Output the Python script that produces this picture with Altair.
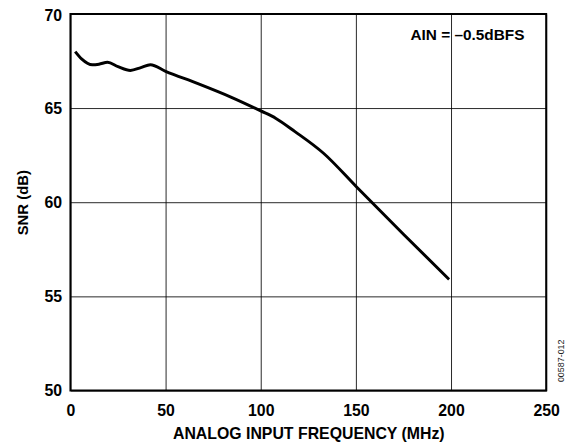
import altair as alt
import pandas as pd

freq = [2.5, 6, 11.5, 15, 19.5, 25, 31.5, 37, 42, 50, 67, 84, 100, 108, 118, 133, 150, 175, 199]
snr = [68.0, 67.6, 67.3, 67.33, 67.43, 67.2, 67.0, 67.15, 67.3, 66.95, 66.3, 65.6, 64.85, 64.45, 63.75, 62.6, 60.85, 58.3, 55.9]

x_ticks = [0, 50, 100, 150, 200, 250]
y_ticks = [50, 55, 60, 65, 70]

df = pd.DataFrame({"f": freq, "snr": snr})
FONT = "Liberation Sans"

line = alt.Chart(df).mark_line(color="black", strokeWidth=3, interpolate="monotone").encode(
    x=alt.X("f:Q", scale=alt.Scale(domain=[0, 250], nice=False),
            axis=alt.Axis(values=x_ticks, title="ANALOG INPUT FREQUENCY (MHz)", labelPadding=12,
                          labelFlush=False, titlePadding=7, titleFontSize=16)),
    y=alt.Y("snr:Q", scale=alt.Scale(domain=[50, 70], nice=False, zero=False),
            axis=alt.Axis(values=y_ticks, title="SNR (dB)", labelPadding=9, titlePadding=14,
                          titleFontSize=15, labelFlush=False,
                          labelOffset=alt.expr("datum.value == 70 ? 2 : 0"))),
)

ann = alt.Chart(pd.DataFrame({"t": ["AIN = –0.5dBFS"]})).mark_text(
    font=FONT, fontSize=15.5, fontWeight="bold", align="right", baseline="middle", color="black"
).encode(text="t:N", x=alt.value(458), y=alt.value(21))

code = alt.Chart(pd.DataFrame({"t": ["00587-012"]})).mark_text(
    font=FONT, fontSize=9, align="center", baseline="middle", angle=270, color="#222222"
).encode(text="t:N", x=alt.value(495), y=alt.value(350))

chart = alt.layer(line, ann, code).properties(
    width=480, height=380,
    autosize=alt.AutoSizeParams(type="none"),
    padding={"left": 63, "top": 4, "right": 20, "bottom": 53},
).configure_view(stroke="black", strokeWidth=2).configure_axis(
    grid=True, gridColor="black", gridWidth=1, gridOpacity=0.85, domain=False, ticks=False,
    labelFont=FONT, labelFontSize=16, labelFontWeight="bold", labelColor="black",
    titleFont=FONT, titleFontWeight="bold", titleColor="black",
)

chart.save("out.html", embed_options={"renderer": "svg", "actions": False})
